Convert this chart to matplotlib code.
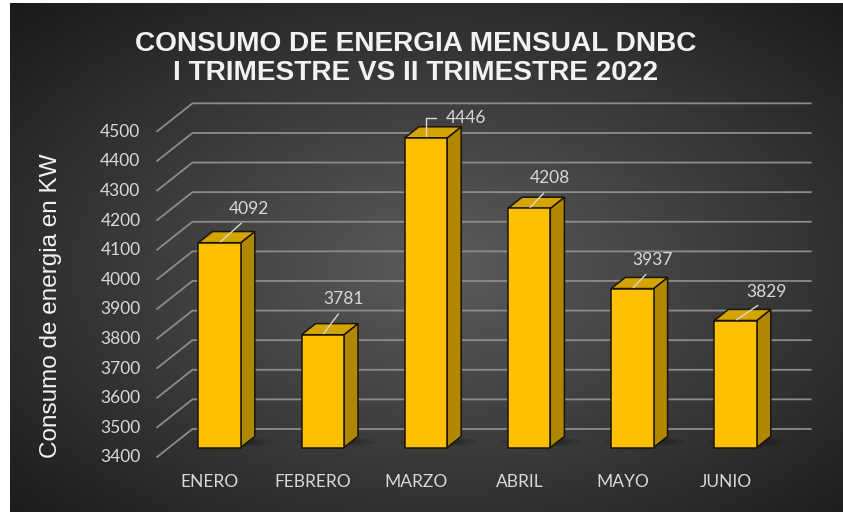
import numpy as np
import matplotlib
matplotlib.use('Agg')
import matplotlib.pyplot as plt
from matplotlib.patches import Polygon, Ellipse

# datos
meses = ['ENERO', 'FEBRERO', 'MARZO', 'ABRIL', 'MAYO', 'JUNIO']
consumo = [4092, 3781, 4446, 4208, 3937, 3829]
ticks = list(range(3400, 4600, 100))
base = 3400

# geometria de la vista 3D (profundidad de pared en unidades de datos)
DX, DY, D0 = 0.349, 96.3, 0.35
BAR_D = 0.39
W = 0.41
XL, XR = -0.49, 5.51

TXT = '#d9d9d9'
GRID = '#8c8c8c'


def proj(x, v, d):
    return x + (d - D0) * DX, v + (d - D0) * DY


fig = plt.figure(figsize=(8.43, 5.12), dpi=100, facecolor='white')

# fondo con degradado radial
bg = fig.add_axes([10 / 843, 0, 833 / 843, 509 / 512], zorder=0)
yy, xx = np.mgrid[0:1:300j, 0:1:500j]
r = np.hypot((xx - 0.52) / 0.62, (yy - 0.52) / 0.62)
c = np.clip(0.36 - 0.22 * r, 0.09, 1)
bg.imshow(np.dstack([c, c, c]), aspect='auto', extent=(0, 1, 0, 1), interpolation='bilinear')
bg.axis('off')

ax = fig.add_axes([0, 0, 1, 1], zorder=1)
ax.patch.set_alpha(0)
ax.set_xlim(-2.128, 6.041)
ax.set_ylim(3182.1, 4911.8)
ax.axis('off')

# lineas de cuadricula (pared lateral + pared del fondo)
for t in ticks:
    x0, y0 = proj(XL, t, 0)
    x1, y1 = proj(XL, t, 1)
    x2, y2 = proj(XR, t, 1)
    ax.plot([x0, x1, x2], [y0, y1, y2], color=GRID, lw=1.3, zorder=1,
            solid_capstyle='butt')
    ax.annotate(str(t), (x0, y0), xytext=(-16, 0), textcoords='offset pixels',
                ha='right', va='center', color=TXT, fontsize=12.5, family='Lato')

# barras
bdx, bdy = BAR_D * DX, BAR_D * DY
for i, v in enumerate(consumo):
    # sombra difusa en el suelo
    for s in [1.0, 0.8, 0.6, 0.4]:
        ax.add_patch(Ellipse(proj(i + 0.05, base, 0.55), 0.78 * s, 34 * s,
                             color='black', alpha=0.09, lw=0, zorder=2))
    l, rr = i - W / 2, i + W / 2
    front = [(l, base), (rr, base), (rr, v), (l, v)]
    top = [(l, v), (rr, v), (rr + bdx, v + bdy), (l + bdx, v + bdy)]
    side = [(rr, base), (rr + bdx, base + bdy), (rr + bdx, v + bdy), (rr, v)]
    for pts, col in [(side, '#b08800'), (top, '#d4a500'), (front, '#ffc000')]:
        ax.add_patch(Polygon(pts, closed=True, fc=col, ec='#1a1400', lw=1.1,
                             joinstyle='miter', zorder=3))

# etiquetas de datos
lab_off = [(29, 34), (21, 36), (40, 20), (21, 30), (20, 29), (31, 29)]
for i, (v, off) in enumerate(zip(consumo, lab_off)):
    if i == 2:
        ap = dict(arrowstyle='-', color=TXT, lw=1, shrinkA=5, shrinkB=1,
                  relpos=(0, 0.5), connectionstyle='angle,angleA=0,angleB=90,rad=0')
    else:
        ap = dict(arrowstyle='-', color=TXT, lw=1, shrinkA=4, shrinkB=1,
                  relpos=(0.5, 0))
    ax.annotate(str(v), (i, v), xytext=off, textcoords='offset pixels',
                ha='center', va='center', color=TXT, fontsize=12.5, family='Lato',
                arrowprops=ap, zorder=5)

# categorias
for i, m in enumerate(meses):
    ax.annotate(m, proj(i, base, 0), xytext=(3, -17), textcoords='offset pixels',
                ha='center', va='top', color=TXT, fontsize=12.5, family='Lato')

fig.text(416 / 843, 1 - 58.5 / 512, 'CONSUMO DE ENERGIA MENSUAL DNBC\nI TRIMESTRE VS II TRIMESTRE 2022',
         ha='center', va='center', fontsize=20.2, weight='bold', color='#f2f2f2',
         family='Liberation Sans', linespacing=1.18)
fig.text(51 / 843, 1 - 306 / 512, 'Consumo de energia en KW', rotation=90,
         ha='center', va='center', fontsize=17.5, color='#f2f2f2', family='Liberation Sans')

fig.savefig('out.png', dpi=100, facecolor='white')
